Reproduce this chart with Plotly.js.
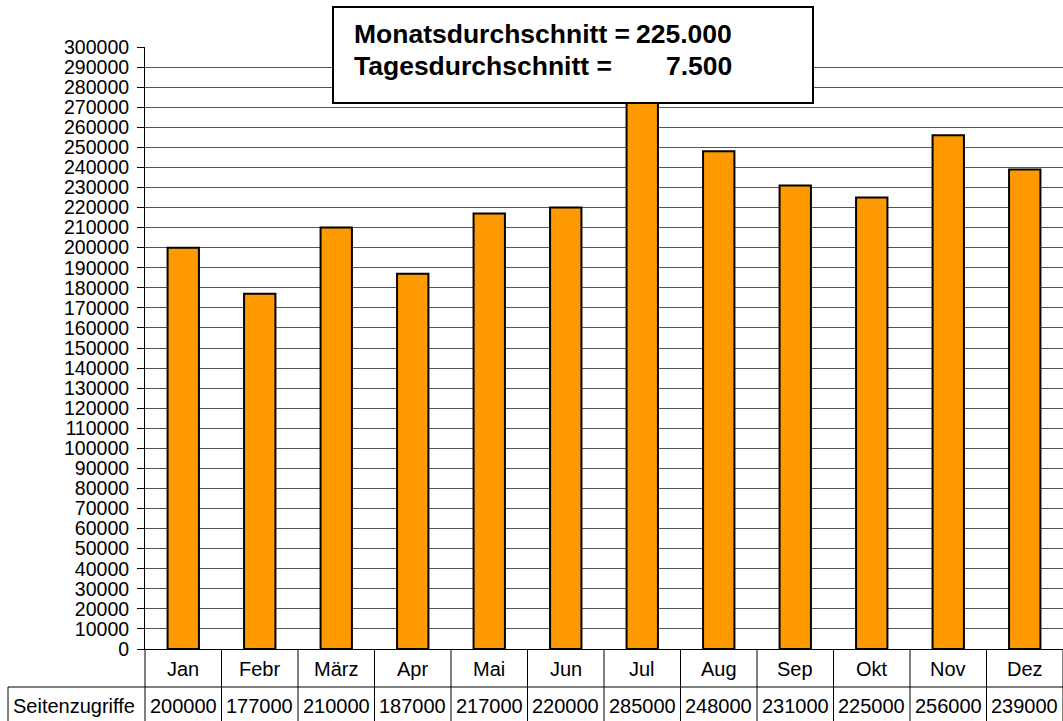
<!DOCTYPE html>
<html>
<head>
<meta charset="utf-8">
<script src="https://cdn.plot.ly/plotly-3.0.1.min.js"></script>
<style>html,body{margin:0;padding:0;background:#fff;}#chart{width:1063px;height:721px;}</style>
</head>
<body>
<div id="chart"></div>
<script>
const months = ["Jan","Febr","März","Apr","Mai","Jun","Jul","Aug","Sep","Okt","Nov","Dez"];
const seitenzugriffe = [200000,177000,210000,187000,217000,220000,285000,248000,231000,225000,256000,239000];
const seriesName = "Seitenzugriffe";
const boxLines = [["Monatsdurchschnitt =", "225.000"], ["Tagesdurchschnitt =", "7.500"]];
const yTicks = [];
for (let v = 0; v <= 300000; v += 10000) yTicks.push(v);

const W = 1063, H = 721;
const L = 145, R = 0, T = 47, B = 72;
const pw = W - L - R, ph = H - T - B;
const px = x => (x - L) / pw;
const py = y => (H - B - y) / ph;
const FONT = "Arial, 'Liberation Sans', sans-serif";

const shapes = [];
const annotations = [];
// table grid
const n = months.length;
for (let i = 0; i <= n; i++) {
  shapes.push({type:"line", xref:"paper", yref:"paper", x0:i/n, x1:i/n, y0:0, y1:py(730), line:{color:"#000", width:1}});
}
shapes.push({type:"line", xref:"paper", yref:"paper", x0:px(8), x1:1, y0:py(687), y1:py(687), line:{color:"#000", width:1}});
shapes.push({type:"line", xref:"paper", yref:"paper", x0:px(8), x1:px(8), y0:py(687), y1:py(730), line:{color:"#000", width:1}});
// text box
shapes.push({type:"rect", xref:"paper", yref:"paper", x0:px(333), x1:px(813), y0:py(103), y1:py(7), fillcolor:"#fff", line:{color:"#000", width:2}, layer:"above"});

months.forEach((m, i) => {
  annotations.push({x:m, xref:"x", yref:"paper", y:py(669), text:m, showarrow:false, xanchor:"center", yanchor:"middle", font:{family:FONT, size:20, color:"#000"}});
  annotations.push({x:m, xref:"x", yref:"paper", y:py(706), text:String(seitenzugriffe[i]), showarrow:false, xanchor:"center", yanchor:"middle", font:{family:FONT, size:20, color:"#000"}});
});
annotations.push({xref:"paper", yref:"paper", x:px(11), y:py(706), text:seriesName, showarrow:false, xanchor:"left", yanchor:"middle", font:{family:FONT, size:20, color:"#000"}});
boxLines.forEach((ln, k) => {
  const yc = k === 0 ? 34 : 66;
  annotations.push({xref:"paper", yref:"paper", x:px(352), y:py(yc), text:"<b>"+ln[0]+"</b>", showarrow:false, xanchor:"left", yanchor:"middle", font:{family:FONT, size:26.5, color:"#000"}});
  annotations.push({xref:"paper", yref:"paper", x:px(734), y:py(yc), text:"<b>"+ln[1]+"</b>", showarrow:false, xanchor:"right", yanchor:"middle", font:{family:FONT, size:26.5, color:"#000"}});
});

const trace = {
  type:"bar", x:months, y:seitenzugriffe, name:seriesName,
  marker:{color:"#FF9900", line:{color:"#000", width:2}},
  hoverinfo:"x+y"
};

const layout = {
  width:W, height:H,
  margin:{l:L, r:R, t:T, b:B, pad:0},
  paper_bgcolor:"#fff", plot_bgcolor:"#fff",
  showlegend:false,
  bargap:0.59,
  font:{family:FONT, size:19, color:"#000"},
  xaxis:{type:"category", categoryorder:"array", categoryarray:months, range:[-0.5, n-0.5],
    showticklabels:false, ticks:"", showgrid:false, zeroline:false, showline:true, linecolor:"#000", linewidth:1, fixedrange:true},
  yaxis:{range:[0,300000], tickmode:"array", tickvals:yTicks, ticktext:yTicks.map(String),
    showgrid:true, gridcolor:"#555", gridwidth:1, zeroline:false, showline:true, linecolor:"#000", linewidth:1,
    ticks:"outside", ticklen:7, tickcolor:"#000", tickwidth:1, ticklabelstandoff:4,
    tickfont:{family:FONT, size:19.5, color:"#000"}, fixedrange:true},
  shapes:shapes,
  annotations:annotations
};

Plotly.newPlot("chart", [trace], layout, {displayModeBar:false, staticPlot:true});
</script>
</body>
</html>
